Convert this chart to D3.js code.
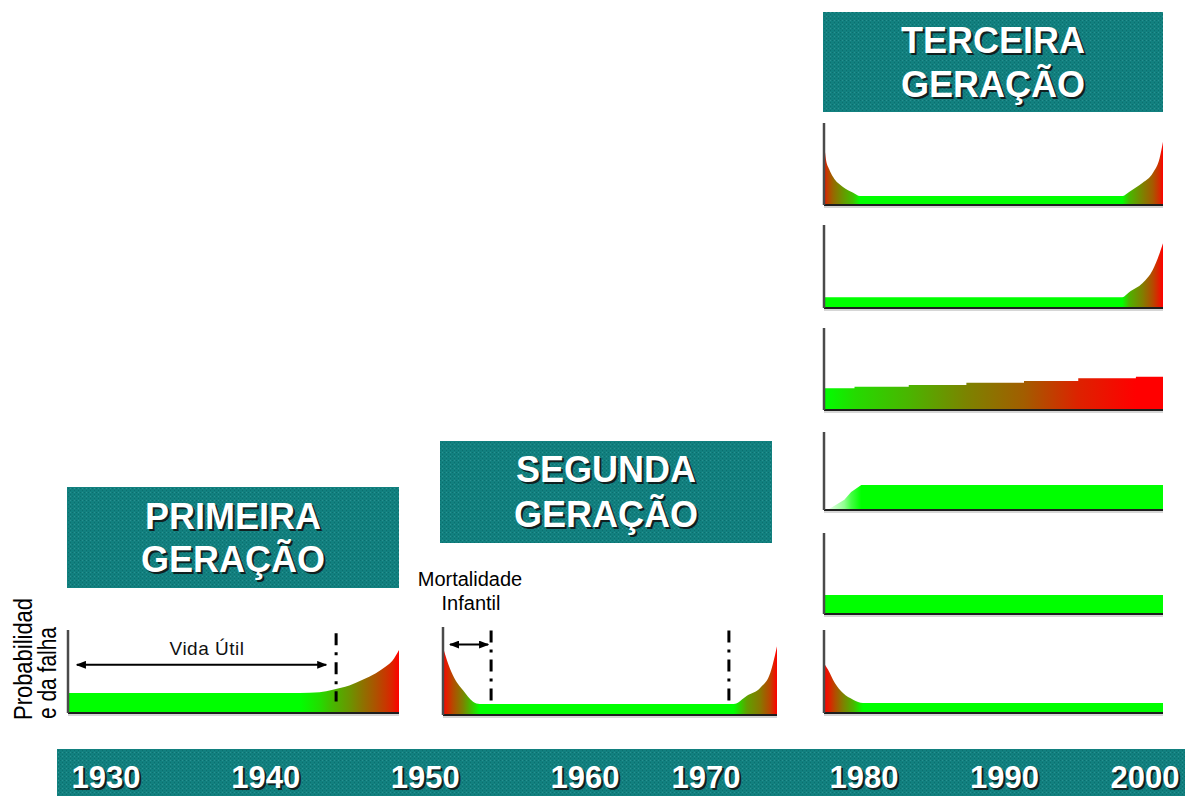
<!DOCTYPE html>
<html>
<head>
<meta charset="utf-8">
<script src="https://cdn.jsdelivr.net/npm/d3@7"></script>
<style>
  html, body { margin: 0; padding: 0; background: #fff; }
  svg { display: block; }
</style>
</head>
<body>
<svg id="chart" width="1185" height="796"></svg>
<script>
// ---- data -------------------------------------------------------------
// Years shown along the time band
const years = [1930, 1940, 1950, 1960, 1970, 1980, 1990, 2000];

// Generation headings (two lines each)
const headingFirst  = ["PRIMEIRA", "GERAÇÃO"];
const headingSecond = ["SEGUNDA", "GERAÇÃO"];
const headingThird  = ["TERCEIRA", "GERAÇÃO"];

// Failure-probability curves: t = % of service life, v = relative probability
// First generation: wear-out at end of life
const firstT = [0, 70, 76, 80, 85, 89, 93, 96, 98, 100];
const firstV = [0.24, 0.24, 0.25, 0.28, 0.33, 0.40, 0.48, 0.56, 0.63, 0.76];

// Second generation: bathtub curve
const secondT = [0, 1.2, 3, 6, 9, 11, 87, 91, 95, 98, 99.4, 100];
const secondV = [0.77, 0.62, 0.45, 0.28, 0.15, 0.125, 0.125, 0.22, 0.31, 0.48, 0.68, 0.78];

// Third generation: six failure patterns
const patternAT = [0, 0.6, 1.5, 2.7, 5.6, 8.6, 10.6, 88, 90, 94, 97, 99, 100];
const patternAV = [0.77, 0.55, 0.44, 0.34, 0.22, 0.15, 0.11, 0.11, 0.16, 0.27, 0.39, 0.57, 0.77];

const patternBT = [0, 88, 90, 94, 97, 99, 100];
const patternBV = [0.13, 0.13, 0.19, 0.30, 0.46, 0.66, 0.78];

const patternCT = [0, 9, 25, 42, 59, 75, 92, 100];
const patternCV = [0.264, 0.284, 0.305, 0.333, 0.354, 0.387, 0.406, 0.406];

const patternDT = [0, 1, 6, 8, 11, 100];
const patternDV = [0, 0, 0.13, 0.23, 0.32, 0.32];

const patternET = [0, 100];
const patternEV = [0.235, 0.235];

const patternFT = [0, 1.2, 3.2, 5.6, 8.6, 11.5, 100];
const patternFV = [0.60, 0.52, 0.36, 0.24, 0.16, 0.12, 0.12];

// Markers on the service-life axis (% of life)
const usefulLifeEnd = 81;
const infantEnd = 14.4, wearStart = 85.6;

// ---- drawing ----------------------------------------------------------
const svg = d3.select("#chart");
const defs = svg.append("defs");
const FONT = "'Liberation Sans', Arial, Helvetica, sans-serif";

// teal dithered fill used by headings and the year band
const pat = defs.append("pattern").attr("id", "teal")
  .attr("width", 4).attr("height", 4).attr("patternUnits", "userSpaceOnUse");
pat.append("rect").attr("width", 4).attr("height", 4).attr("fill", "#12807f");
pat.append("rect").attr("x", 0).attr("y", 0).attr("width", 1).attr("height", 1).attr("fill", "#0b6f6e");
pat.append("rect").attr("x", 2).attr("y", 2).attr("width", 1).attr("height", 1).attr("fill", "#0b6f6e");
pat.append("rect").attr("x", 2).attr("y", 0).attr("width", 1).attr("height", 1).attr("fill", "#2a9190");

// arrow heads
defs.append("marker").attr("id", "arrow")
  .attr("viewBox", "0 0 10 8").attr("refX", 9).attr("refY", 4)
  .attr("markerWidth", 10).attr("markerHeight", 8)
  .attr("markerUnits", "userSpaceOnUse")
  .attr("orient", "auto-start-reverse")
  .append("path").attr("d", "M0,0 L10,4 L0,8 Z").attr("fill", "#000");

function shadowText(g, x, y, text, size, anchor) {
  g.append("text").attr("x", x + 2).attr("y", y + 2)
    .attr("text-anchor", anchor || "middle")
    .attr("font-family", FONT).attr("font-weight", "bold")
    .attr("font-size", size).attr("fill", "#102020").text(text);
  g.append("text").attr("x", x).attr("y", y)
    .attr("text-anchor", anchor || "middle")
    .attr("font-family", FONT).attr("font-weight", "bold")
    .attr("font-size", size).attr("fill", "#ffffff").text(text);
}

function heading(lines, box, baselines) {
  const g = svg.append("g");
  g.append("rect").attr("x", box.x).attr("y", box.y)
    .attr("width", box.w).attr("height", box.h).attr("fill", "url(#teal)");
  lines.forEach((s, i) => shadowText(g, box.x + box.w / 2, baselines[i], s, 36));
}

heading(headingFirst,  {x: 67,  y: 487, w: 332, h: 101}, [529, 572]);
heading(headingSecond, {x: 440, y: 441, w: 332, h: 102}, [482, 527]);
heading(headingThird,  {x: 823, y: 12,  w: 340, h: 100}, [53, 97]);

// panel drawing: x/y scales per panel, area filled with a gradient driven by value
let gradId = 0;
function panel(frame, tArr, vArr, opts = {}) {
  const x = d3.scaleLinear().domain([0, 100]).range([frame.x0, frame.x1]);
  const y = d3.scaleLinear().domain([0, 1]).range([frame.base, frame.top]);
  const pts = tArr.map((t, i) => ({t, v: vArr[i]}));
  const g = svg.append("g");

  const vmin = d3.min(vArr), vmax = d3.max(vArr);
  const lo = opts.low || "#00ff00", hi = opts.high || "#ff0000";
  const interp = d3.interpolateRgb(lo, hi);
  const kOf = v => vmax > vmin ? Math.pow((v - vmin) / (vmax - vmin), opts.gamma || 0.5) : 0;
  const id = "grad" + (gradId++);
  const grad = defs.append("linearGradient").attr("id", id)
    .attr("gradientUnits", "userSpaceOnUse")
    .attr("x1", x(0)).attr("x2", x(100)).attr("y1", 0).attr("y2", 0);
  grad.selectAll("stop").data(pts).join("stop")
    .attr("offset", d => d.t / 100)
    .attr("stop-color", d => interp(kOf(d.v)));

  const area = d3.area()
    .x(d => x(d.t)).y0(y(0)).y1(d => y(d.v))
    .curve(opts.curve || d3.curveMonotoneX);
  g.append("path").datum(pts).attr("d", area).attr("fill", `url(#${id})`);

  // axes
  g.append("line").attr("x1", x(0)).attr("x2", x(100))
    .attr("y1", y(0) + 2).attr("y2", y(0) + 2).attr("stroke", "#c8c8c8").attr("stroke-width", 1.5);
  g.append("line").attr("x1", x(0)).attr("x2", x(100))
    .attr("y1", y(0)).attr("y2", y(0)).attr("stroke", "#1e1e1e").attr("stroke-width", 2);
  g.append("line").attr("x1", x(0)).attr("x2", x(0))
    .attr("y1", y(1)).attr("y2", y(0)).attr("stroke", "#4a4a4a").attr("stroke-width", 2.5);
  return {g, x, y};
}

function dashDot(p, t) {
  p.g.append("line").attr("x1", p.x(t)).attr("x2", p.x(t))
    .attr("y1", p.y(0.96)).attr("y2", p.y(0.14))
    .attr("stroke", "#000").attr("stroke-width", 3)
    .attr("stroke-dasharray", "12,7,3,7");
}
function arrow(p, t0, t1, v) {
  p.g.append("line").attr("x1", p.x(t0)).attr("x2", p.x(t1))
    .attr("y1", p.y(v)).attr("y2", p.y(v))
    .attr("stroke", "#000").attr("stroke-width", 2)
    .attr("marker-start", "url(#arrow)").attr("marker-end", "url(#arrow)");
}

// First generation
const p1 = panel({x0: 68, x1: 399, top: 630, base: 713}, firstT, firstV);
dashDot(p1, usefulLifeEnd);
arrow(p1, 2.7, 78, 0.58);
p1.g.append("text").attr("x", p1.x(42)).attr("y", 655)
  .attr("text-anchor", "middle").attr("font-family", FONT)
  .attr("font-size", 19).attr("letter-spacing", 0.5).attr("fill", "#111").text("Vida Útil");

// y label
const yl = svg.append("g").attr("font-family", FONT).attr("fill", "#000").attr("font-size", 25);
yl.append("text").attr("transform", "translate(32,720) rotate(-90)")
  .attr("textLength", 122).attr("lengthAdjust", "spacingAndGlyphs").text("Probabilidad");
yl.append("text").attr("transform", "translate(56,719) rotate(-90)")
  .attr("textLength", 92).attr("lengthAdjust", "spacingAndGlyphs").text("e da falha");

// Second generation
const p2 = panel({x0: 443, x1: 777, top: 627, base: 715}, secondT, secondV);
dashDot(p2, infantEnd);
dashDot(p2, wearStart);
arrow(p2, 2.1, 13.5, 0.80);
const ml = svg.append("g").attr("font-family", FONT).attr("font-size", 20)
  .attr("fill", "#000").attr("text-anchor", "middle");
ml.append("text").attr("x", 470).attr("y", 586).text("Mortalidade");
ml.append("text").attr("x", 471).attr("y", 610).text("Infantil");

// Third generation: six patterns
panel({x0: 824, x1: 1163, top: 123, base: 205}, patternAT, patternAV);
panel({x0: 824, x1: 1163, top: 225, base: 308}, patternBT, patternBV);
panel({x0: 824, x1: 1163, top: 328, base: 410}, patternCT, patternCV, {curve: d3.curveStepAfter, gamma: 1});
panel({x0: 824, x1: 1163, top: 432, base: 510}, patternDT, patternDV, {curve: d3.curveLinear, low: "#f0fff0", high: "#00ff00", gamma: 1});
panel({x0: 824, x1: 1163, top: 533, base: 614}, patternET, patternEV, {curve: d3.curveLinear});
panel({x0: 824, x1: 1163, top: 630, base: 713}, patternFT, patternFV);

// Year band
const yearX = d3.scaleLinear()
  .domain([1930, 1960, 1970, 1980, 2000])
  .range([106, 585, 706, 864, 1145]);
const band = svg.append("g");
band.append("rect").attr("x", 57).attr("y", 749).attr("width", 1128).attr("height", 47)
  .attr("fill", "url(#teal)");
years.forEach(yr => shadowText(band, yearX(yr), 788, String(yr), 31));
</script>
</body>
</html>
